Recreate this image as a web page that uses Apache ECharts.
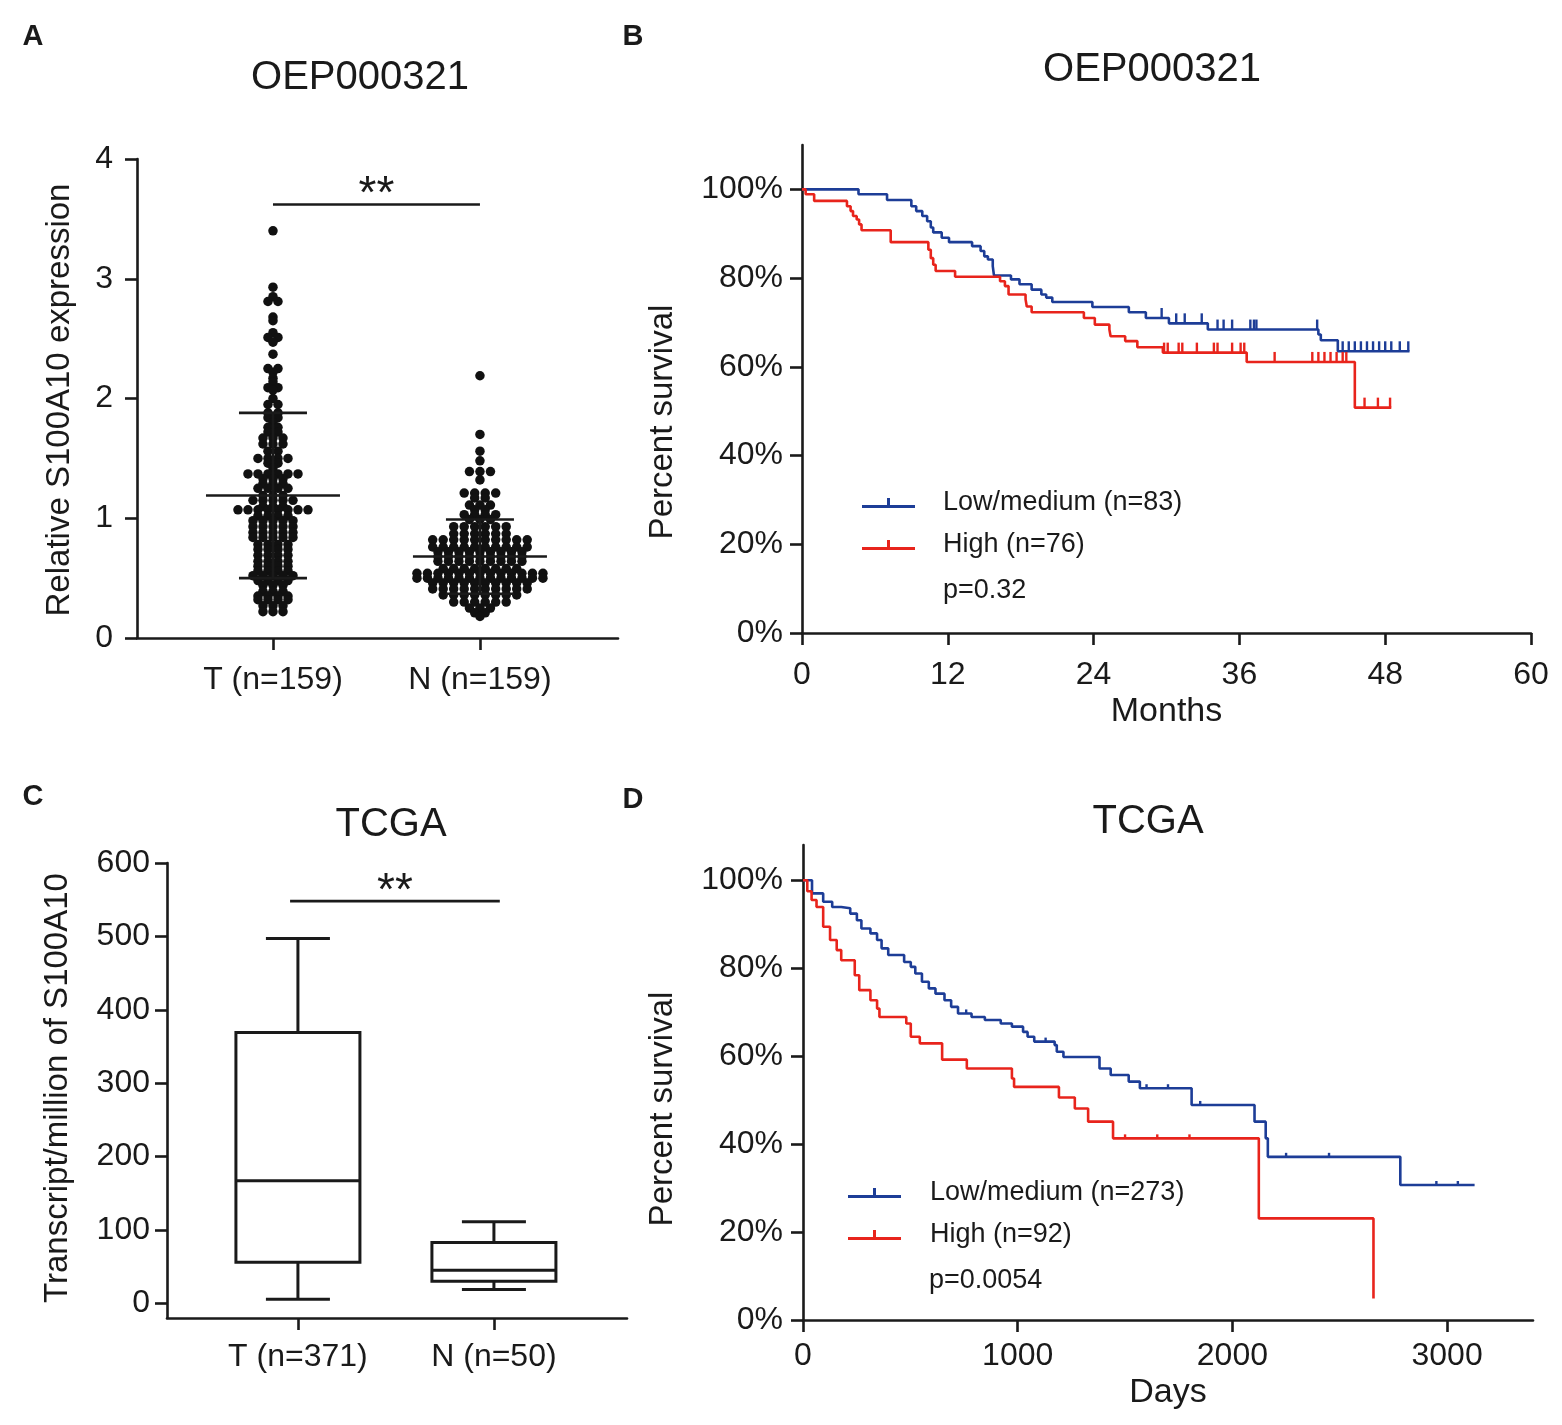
<!DOCTYPE html>
<html>
<head>
<meta charset="utf-8" />
<title>S100A10</title>
<script src="https://cdn.jsdelivr.net/npm/echarts@6/dist/echarts.min.js"></script>
<style>html,body{margin:0;padding:0;background:#fff}</style>
</head>
<body>
<div id="main" style="width:1562px;height:1425px;"></div>
<script type="text/javascript">
// panel A: relative S100A10 expression, one value per dot
var groupsA = ['T (n=159)', 'N (n=159)'];
var tValues = [
  3.40, 2.93, 2.85, 2.81, 2.81, 2.68, 2.65, 2.55, 2.51, 2.51, 2.47, 2.37,
  2.25, 2.25, 2.22, 2.17, 2.14, 2.09, 2.09, 2.07, 2.00,
  1.95, 1.95, 1.88, 1.88, 1.84, 1.84, 1.80, 1.76, 1.76, 1.72, 1.72,
  1.67, 1.67, 1.67, 1.62, 1.62, 1.62, 1.56, 1.56, 1.50, 1.50, 1.50, 1.50, 1.46, 1.46, 1.42,
  1.37, 1.37, 1.37, 1.37, 1.37, 1.37, 1.33, 1.33, 1.33, 1.29, 1.29, 1.29,
  1.25, 1.25, 1.25, 1.25, 1.19, 1.19, 1.19, 1.15, 1.15, 1.15, 1.15, 1.15,
  1.10, 1.10, 1.10, 1.07, 1.07, 1.07, 1.07, 1.07, 1.07, 1.07, 1.07,
  1.02, 1.02, 1.02, 1.02, 0.98, 0.98, 0.98, 0.98, 0.98,
  0.93, 0.93, 0.93, 0.93, 0.93, 0.88, 0.88, 0.88, 0.88, 0.88,
  0.84, 0.84, 0.84, 0.84, 0.84, 0.78, 0.78, 0.78, 0.78, 0.74, 0.74, 0.74, 0.74,
  0.69, 0.69, 0.69, 0.69, 0.64, 0.64, 0.64, 0.64, 0.60, 0.60, 0.60, 0.60,
  0.56, 0.56, 0.56, 0.56, 0.52, 0.52, 0.52, 0.52, 0.52, 0.48, 0.48, 0.48, 0.48,
  0.44, 0.44, 0.44, 0.39, 0.39, 0.39, 0.35, 0.35, 0.35, 0.35,
  0.32, 0.32, 0.32, 0.32, 0.27, 0.27, 0.27, 0.22, 0.22, 0.22
];
var nValues = [
  2.19, 1.70, 1.56, 1.48, 1.39, 1.39, 1.39, 1.32,
  1.21, 1.21, 1.21, 1.21, 1.17, 1.17, 1.11, 1.11, 1.11, 1.07, 1.07,
  1.03, 1.03, 1.03, 1.03, 0.99, 0.99, 0.99,
  0.93, 0.93, 0.93, 0.93, 0.93, 0.93, 0.87, 0.87, 0.87, 0.87, 0.87, 0.87,
  0.82, 0.82, 0.82, 0.82, 0.82, 0.82, 0.82, 0.82, 0.82, 0.82,
  0.76, 0.76, 0.76, 0.76, 0.76, 0.76, 0.76, 0.76, 0.76, 0.76,
  0.72, 0.72, 0.72, 0.72, 0.72, 0.72, 0.72, 0.72, 0.72,
  0.68, 0.68, 0.68, 0.68, 0.68, 0.68, 0.68, 0.68, 0.68,
  0.64, 0.64, 0.64, 0.64, 0.64, 0.64, 0.64, 0.64, 0.64,
  0.58, 0.58, 0.58, 0.58, 0.58, 0.58, 0.58, 0.58,
  0.54, 0.54, 0.54, 0.54, 0.54, 0.54, 0.54, 0.54, 0.54, 0.54, 0.54, 0.54, 0.54,
  0.50, 0.50, 0.50, 0.50, 0.50, 0.50, 0.50, 0.50, 0.50, 0.50, 0.50, 0.50, 0.50,
  0.46, 0.46, 0.46, 0.46, 0.46, 0.46, 0.46, 0.46, 0.46, 0.46,
  0.41, 0.41, 0.41, 0.41, 0.41, 0.41, 0.41, 0.41, 0.41, 0.41,
  0.36, 0.36, 0.36, 0.36, 0.36, 0.36, 0.36, 0.36,
  0.30, 0.30, 0.30, 0.30, 0.30, 0.30, 0.25, 0.25, 0.25, 0.21, 0.21, 0.18
];
var meanSdA = [[1.19, 0.69], [0.68, 0.31]];   // mean, SD
var sigA = 3.62;

// panel C: TPM box plot  [min, q1, median, q3, max]
var groupsC = ['T (n=371)', 'N (n=50)'];
var boxC = [[5.5, 56, 167, 369, 497], [19, 30, 45, 83, 111]];
var sigC = 548;

// panel B: OEP000321 survival (months, %)
var kmBLow = [[0,100],[4.65,98.9],[7.0,97.6],[9.0,96.2],[9.4,95.1],[9.9,94.0],[10.3,92.8],[10.6,91.4],[10.8,90.3],
  [11.5,89.1],[12.1,88.1],[14.0,87.2],[14.7,86.1],[15.0,84.9],[15.3,84.2],[15.7,82.7],[15.8,80.6],[17.2,79.7],
  [17.9,78.6],[18.9,77.4],[19.7,76.3],[20.1,75.6],[20.6,74.6],[23.9,73.5],[26.9,72.3],[28.3,71.0],[30.2,69.8],
  [33.4,68.4],[42.5,67.3],[42.7,66.0],[44.1,63.5],[50.0,63.5]];
var kmBHigh = [[0,100],[0.3,98.9],[1.0,97.4],[3.7,96.2],[4.0,95.1],[4.2,94.0],[4.5,93.2],[4.7,92.1],[4.9,90.8],
  [7.3,88.1],[10.4,86.4],[10.6,84.5],[10.8,83.0],[11.0,81.6],[12.6,80.3],[16.3,79.3],[16.7,78.2],[17.0,76.3],
  [18.4,75.2],[18.5,73.6],[18.9,72.3],[23.2,71.0],[24.1,69.5],[25.3,68.4],[25.4,66.9],[26.6,65.8],[27.6,64.4],
  [29.7,63.2],[36.6,61.1],[45.5,50.8],[48.5,50.8]];
var censorBLow = [29.6, 30.8, 31.5, 32.9, 34.2, 34.7, 35.4, 36.9, 37.2, 37.4, 42.4,
  44.5, 45.0, 45.5, 46.0, 46.5, 47.0, 47.5, 48.0, 48.5, 49.2, 49.9];
var censorBHigh = [29.8, 30.1, 31.0, 31.3, 32.5, 33.9, 34.2, 35.4, 36.1, 36.4, 38.9,
  42.0, 42.5, 43.0, 43.5, 44.0, 44.5, 44.8, 46.3, 47.4, 48.4];

// panel D: TCGA survival (days, %)
var kmDLow = [[0,100],[42,97.0],[94,95.1],[136,93.9],[178,93.6],[220,92.4],[251,90.9],[272,89.0],[314,87.9],
  [345,86.4],[366,84.5],[397,83.0],[471,81.4],[502,80.3],[523,78.8],[554,76.9],[586,75.4],[617,74.2],[659,72.7],
  [690,71.2],[722,69.7],[785,68.9],[847,68.2],[921,67.4],[973,66.7],[1025,65.5],[1046,64.4],[1077,63.3],
  [1172,62.5],[1182,61.0],[1213,59.8],[1381,57.2],[1433,55.7],[1517,54.2],[1569,52.7],[1810,48.9],[2103,45.1],
  [2155,41.3],[2165,37.1],[2782,30.7],[3128,30.7]];
var kmDHigh = [[0,100],[20,97.5],[40,95.5],[63,93.9],[94,89.4],[126,86.4],[157,84.1],[178,81.8],[241,78.4],
  [262,75.0],[314,72.7],[345,70.8],[356,68.9],[481,67.4],[502,64.4],[544,62.9],[648,59.2],[763,57.2],
  [973,54.9],[983,53.0],[1192,50.6],[1266,48.1],[1328,45.1],[1444,41.3],[2123,23.1],[2657,4.9]];
var censorDLow = [760, 1130, 1600, 1700, 1850, 2250, 2450, 2950, 3050];
var censorDHigh = [1500, 1650, 1800];

var INK = '#1a1a1a';
var BLUE = '#1d3d97';
var RED = '#e8241c';
var FONT = "'Liberation Sans', Arial, sans-serif";

var myChart = echarts.init(document.getElementById('main'));

// place dots that share a value side by side, like a dot plot
function swarm(values, x, spacing) {
  var rows = {};
  values.forEach(function (v) { (rows[v] = rows[v] || []).push(v); });
  var out = [];
  Object.keys(rows).forEach(function (k) {
    var n = rows[k].length;
    rows[k].forEach(function (v, i) {
      out.push({ value: [x, v], symbolOffset: [(i - (n - 1) / 2) * spacing, 0] });
    });
  });
  return out;
}

function survAt(curve, t) {
  var s = curve[0][1];
  curve.forEach(function (p) { if (p[0] <= t) s = p[1]; });
  return s;
}

function mkAxis(o) {
  return {
    type: 'value', gridIndex: o.grid, min: o.min, max: o.max, interval: o.interval,
    name: o.name || '', nameLocation: 'middle', nameGap: o.nameGap || 0,
    nameTextStyle: { color: INK, fontSize: 34, fontFamily: FONT },
    axisLine: { show: true, onZero: false, lineStyle: { color: INK, width: 2.6 } },
    axisTick: { show: true, length: 12, customValues: o.ticks, lineStyle: { color: INK, width: 2.6 } },
    axisLabel: { show: true, color: INK, fontSize: 32, fontFamily: FONT, margin: o.margin,
      customValues: o.ticks, formatter: o.fmt || function (v) { return String(v); } },
    splitLine: { show: false }
  };
}

var lineSt = { stroke: INK, lineWidth: 2.6, fill: null };

function renderMeanSd(params, api) {
  var x = api.value(0), m = api.value(1), s = api.value(2);
  var c = api.coord([x, m]), hi = api.coord([x, m + s]), lo = api.coord([x, m - s]);
  return { type: 'group', children: [
    { type: 'line', shape: { x1: c[0] - 67, y1: c[1], x2: c[0] + 67, y2: c[1] }, style: lineSt },
    { type: 'line', shape: { x1: hi[0] - 34, y1: hi[1], x2: hi[0] + 34, y2: hi[1] }, style: lineSt },
    { type: 'line', shape: { x1: lo[0] - 34, y1: lo[1], x2: lo[0] + 34, y2: lo[1] }, style: lineSt },
    { type: 'line', shape: { x1: hi[0], y1: hi[1], x2: lo[0], y2: lo[1] }, style: lineSt }
  ] };
}

function renderBox(params, api) {
  var x = api.value(0);
  var mn = api.coord([x, api.value(1)]), q1 = api.coord([x, api.value(2)]), md = api.coord([x, api.value(3)]);
  var q3 = api.coord([x, api.value(4)]), mx = api.coord([x, api.value(5)]);
  var hw = 62, cw = 32, st = { stroke: INK, lineWidth: 3, fill: null };
  return { type: 'group', children: [
    { type: 'rect', shape: { x: q3[0] - hw, y: q3[1], width: hw * 2, height: q1[1] - q3[1] }, style: { stroke: INK, lineWidth: 3, fill: '#fff' } },
    { type: 'line', shape: { x1: md[0] - hw, y1: md[1], x2: md[0] + hw, y2: md[1] }, style: st },
    { type: 'line', shape: { x1: q3[0], y1: q3[1], x2: mx[0], y2: mx[1] }, style: st },
    { type: 'line', shape: { x1: q1[0], y1: q1[1], x2: mn[0], y2: mn[1] }, style: st },
    { type: 'line', shape: { x1: mx[0] - cw, y1: mx[1], x2: mx[0] + cw, y2: mx[1] }, style: st },
    { type: 'line', shape: { x1: mn[0] - cw, y1: mn[1], x2: mn[0] + cw, y2: mn[1] }, style: st }
  ] };
}

function renderSig(params, api) {
  var a = api.coord([api.value(0), api.value(2)]), b = api.coord([api.value(1), api.value(2)]);
  return { type: 'group', children: [
    { type: 'line', shape: { x1: a[0], y1: a[1], x2: b[0], y2: b[1] }, style: lineSt },
    { type: 'text', x: (a[0] + b[0]) / 2, y: a[1] - 9,
      style: { text: '**', fill: INK, font: '46px ' + FONT, align: 'center', verticalAlign: 'middle' } }
  ] };
}

function kmLine(name, data, color, xi) {
  return { name: name, type: 'line', step: 'end', xAxisIndex: xi, yAxisIndex: xi, data: data,
    showSymbol: false, color: color, lineStyle: { color: color, width: 2.6 }, z: 3 };
}
function censor(name, times, curve, color, xi, h) {
  return { name: name, type: 'scatter', xAxisIndex: xi, yAxisIndex: xi, symbol: 'rect',
    symbolSize: [2.4, h], symbolOffset: [0, -h / 2], color: color, z: 4, silent: true,
    itemStyle: { color: color, opacity: 1 },
    data: times.map(function (t) { return [t, survAt(curve, t)]; }) };
}

var legendIcon = 'path://M0,7H53V10H0Z M25,0H28V7H25Z';
function mkLegend(names, left, top, pad) {
  return { data: names, left: left, top: top, orient: 'vertical', padding: 0, icon: legendIcon,
    itemWidth: 53, itemHeight: 10, itemGap: 12, selectedMode: false,
    textStyle: { color: INK, fontSize: 27, fontFamily: FONT, lineHeight: 30, padding: [0, 0, 0, pad] } };
}

function txt(s, x, y, size, opts) {
  opts = opts || {};
  return { type: 'text', x: x, y: y, rotation: opts.rot || 0,
    style: { text: s, fill: INK, font: (opts.bold ? 'bold ' : '') + size + 'px ' + FONT,
      align: opts.align || 'center', verticalAlign: 'middle' } };
}

var dotStyle = { color: '#111', opacity: 1 };

var option = {
  animation: false,
  backgroundColor: '#fff',
  grid: [
    { left: 137, top: 159, width: 481, height: 479, outerBoundsMode: 'none', containLabel: false },
    { left: 802, top: 145, width: 729, height: 488, outerBoundsMode: 'none', containLabel: false },
    { left: 167, top: 863, width: 460, height: 455, outerBoundsMode: 'none', containLabel: false },
    { left: 803, top: 845, width: 730, height: 475, outerBoundsMode: 'none', containLabel: false }
  ],
  xAxis: [
    mkAxis({ grid: 0, min: 0.343, max: 2.667, ticks: [1, 2], margin: 26,
      fmt: function (v) { return groupsA[Math.round(v) - 1]; } }),
    mkAxis({ grid: 1, min: 0, max: 60, interval: 12, margin: 26, name: 'Months', nameGap: 62 }),
    mkAxis({ grid: 2, min: 0.332, max: 2.679, ticks: [1, 2], margin: 23,
      fmt: function (v) { return groupsC[Math.round(v) - 1]; } }),
    mkAxis({ grid: 3, min: 0, max: 3400, ticks: [0, 1000, 2000, 3000], margin: 20, name: 'Days', nameGap: 56 })
  ],
  yAxis: [
    mkAxis({ grid: 0, min: 0, max: 4, interval: 1, margin: 24 }),
    mkAxis({ grid: 1, min: 0, max: 110, ticks: [0, 20, 40, 60, 80, 100], margin: 19,
      fmt: function (v) { return v + '%'; } }),
    mkAxis({ grid: 2, min: -20, max: 600, ticks: [0, 100, 200, 300, 400, 500, 600], margin: 17 }),
    mkAxis({ grid: 3, min: 0, max: 108, ticks: [0, 20, 40, 60, 80, 100], margin: 20,
      fmt: function (v) { return v + '%'; } })
  ],
  legend: [
    mkLegend(['Low/medium (n=83)', 'High (n=76)'], 862, 488, 23),
    mkLegend(['Low/medium (n=273)', 'High (n=92)'], 848, 1178, 24)
  ],
  graphic: { elements: [
    txt('A', 33, 37, 29, { bold: true }), txt('B', 633, 37, 29, { bold: true }),
    txt('C', 33, 797, 29, { bold: true }), txt('D', 633, 800, 29, { bold: true }),
    txt('OEP000321', 360, 78, 40), txt('OEP000321', 1152, 70, 40),
    txt('TCGA', 391, 825, 40), txt('TCGA', 1148, 822, 40),
    txt('Relative S100A10 expression', 60, 400, 33, { rot: Math.PI / 2 }),
    txt('Percent survival', 663, 422, 33, { rot: Math.PI / 2 }),
    txt('Transcript/million of S100A10', 58, 1088, 33, { rot: Math.PI / 2 }),
    txt('Percent survival', 663, 1109, 33, { rot: Math.PI / 2 }),
    txt('p=0.32', 943, 591, 27, { align: 'left' }),
    txt('p=0.0054', 929, 1281, 27, { align: 'left' })
  ] },
  series: [
    { name: 'T dots', type: 'scatter', xAxisIndex: 0, yAxisIndex: 0, symbol: 'circle', symbolSize: 9.5,
      itemStyle: dotStyle, data: swarm(tValues, 1, 10), silent: true },
    { name: 'N dots', type: 'scatter', xAxisIndex: 0, yAxisIndex: 0, symbol: 'circle', symbolSize: 9.5,
      itemStyle: dotStyle, data: swarm(nValues, 2, 10.5), silent: true },
    { name: 'mean SD', type: 'custom', xAxisIndex: 0, yAxisIndex: 0, renderItem: renderMeanSd, z: 5,
      encode: { x: 0, y: 1 }, data: meanSdA.map(function (d, i) { return [i + 1, d[0], d[1]]; }) },
    { name: 'sig A', type: 'custom', xAxisIndex: 0, yAxisIndex: 0, renderItem: renderSig,
      encode: { x: 0, y: 2 }, data: [[1, 2, sigA]] },
    { name: 'box C', type: 'custom', xAxisIndex: 2, yAxisIndex: 2, renderItem: renderBox,
      encode: { x: 0, y: [1, 5] }, data: boxC.map(function (d, i) { return [i + 1].concat(d); }) },
    { name: 'sig C', type: 'custom', xAxisIndex: 2, yAxisIndex: 2, renderItem: renderSig,
      encode: { x: 0, y: 2 }, data: [[0.96, 2.03, sigC]] },
    kmLine('Low/medium (n=83)', kmBLow, BLUE, 1),
    kmLine('High (n=76)', kmBHigh, RED, 1),
    censor('cens B low', censorBLow, kmBLow, BLUE, 1, 10),
    censor('cens B high', censorBHigh, kmBHigh, RED, 1, 10),
    kmLine('Low/medium (n=273)', kmDLow, BLUE, 3),
    kmLine('High (n=92)', kmDHigh, RED, 3),
    censor('cens D low', censorDLow, kmDLow, BLUE, 3, 4),
    censor('cens D high', censorDHigh, kmDHigh, RED, 3, 4)
  ]
};
option && myChart.setOption(option);
</script>
</body>
</html>
